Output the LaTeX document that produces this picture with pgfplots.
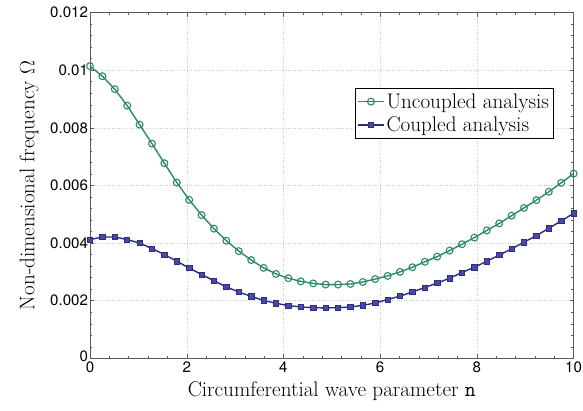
\documentclass[border=0pt]{standalone}
\usepackage{pgfplots}
\pgfplotsset{compat=1.18}
\usepackage{fontspec}
\setsansfont{TeX Gyre Heros}
\definecolor{cgreen}{RGB}{42,140,95}
\definecolor{cblue}{RGB}{44,44,128}
\definecolor{cbluefill}{RGB}{72,72,165}
\definecolor{axgray}{RGB}{90,90,90}
\pgfplotstableread{
x y
0 0.01014
0.2564 0.00979
0.5128 0.00934
0.7692 0.00877
1.0256 0.00811
1.2821 0.00745
1.5385 0.00677
1.7949 0.00610
2.0513 0.00550
2.3077 0.00497
2.5641 0.00450
2.8205 0.00408
3.0769 0.00372
3.3333 0.00341
3.5897 0.00314
3.8462 0.00293
4.1026 0.00278
4.3590 0.00267
4.6154 0.00260
4.8718 0.00256
5.1282 0.00256
5.3846 0.00258
5.6410 0.00265
5.8974 0.00275
6.1538 0.00286
6.4103 0.00300
6.6667 0.00316
6.9231 0.00335
7.1795 0.00353
7.4359 0.00374
7.6923 0.00396
7.9487 0.00419
8.2051 0.00444
8.4615 0.00468
8.7179 0.00495
8.9744 0.00522
9.2308 0.00549
9.4872 0.00578
9.7436 0.00609
10 0.00641
}\uncoupled
\pgfplotstableread{
x y
0 0.00412
0.2564 0.00421
0.5128 0.00421
0.7692 0.00412
1.0256 0.00400
1.2821 0.00381
1.5385 0.00360
1.7949 0.00337
2.0513 0.00313
2.3077 0.00291
2.5641 0.00269
2.8205 0.00248
3.0769 0.00230
3.3333 0.00215
3.5897 0.00201
3.8462 0.00191
4.1026 0.00183
4.3590 0.00178
4.6154 0.00176
4.8718 0.00175
5.1282 0.00176
5.3846 0.00178
5.6410 0.00184
5.8974 0.00192
6.1538 0.00204
6.4103 0.00216
6.6667 0.00230
6.9231 0.00246
7.1795 0.00261
7.4359 0.00278
7.6923 0.00298
7.9487 0.00316
8.2051 0.00337
8.4615 0.00358
8.7179 0.00380
8.9744 0.00403
9.2308 0.00426
9.4872 0.00451
9.7436 0.00477
10 0.00503
}\coupled
\begin{document}
\begin{tikzpicture}
\begin{axis}[
  scale only axis,
  width=479bp, height=342.5bp,
  xmin=0, xmax=10, ymin=0, ymax=0.012,
  xtick={0,2,4,6,8,10},
  ytick={0,0.002,0.004,0.006,0.008,0.01,0.012},
  yticklabels={\raisebox{4pt}{0},0.002,0.004,0.006,0.008,0.01,0.012},
  minor x tick num=4, minor y tick num=4,
  tick align=inside,
  major tick length=4pt, minor tick length=2.5pt,
  axis line style={axgray},
  every tick/.style={axgray},
  grid=major,
  major grid style={dotted, gray!40},
  scaled y ticks=false,
  /pgf/number format/assume math mode=true,
  tick label style={font=\sffamily\fontsize{15}{18}\selectfont, inner sep=1pt},
  yticklabel style={xshift=-0.8pt},
  xticklabel style={yshift=-2.3pt},
  label style={font=\fontsize{21}{24}\selectfont},
  xlabel={Circumferential wave parameter \texttt{n}},
  ylabel={Non-dimensional frequency $\Omega$},
  xlabel style={yshift=-4pt},
  ylabel style={yshift=7pt},
  legend style={at={(0.958,0.781)}, anchor=north east, draw=black, line width=0.5pt,
    font=\fontsize{21}{24}\selectfont, inner xsep=2pt, inner ysep=3pt, row sep=3pt},
  legend cell align=left,
  legend image code/.code={\draw[mark repeat=2,mark phase=2] plot coordinates {(0cm,0cm) (0.45cm,0cm) (0.9cm,0cm)};},
]
\addplot[cgreen, line width=1.4pt, mark=o, mark size=3.4pt, mark options={line width=1.1pt, fill=white}] table {\uncoupled};
\addlegendentry{Uncoupled analysis}
\addplot[cblue, line width=1.4pt, mark=square*, mark size=2.6pt, mark options={line width=0.6pt, fill=cbluefill}] table {\coupled};
\addlegendentry{Coupled analysis}
\end{axis}
\coordinate (bl) at ([shift={(-16bp,-7bp)}]current bounding box.south west);
\coordinate (tr) at ([shift={(0bp,6bp)}]current bounding box.north east);
\path (bl) (tr);
\end{tikzpicture}
\end{document}
